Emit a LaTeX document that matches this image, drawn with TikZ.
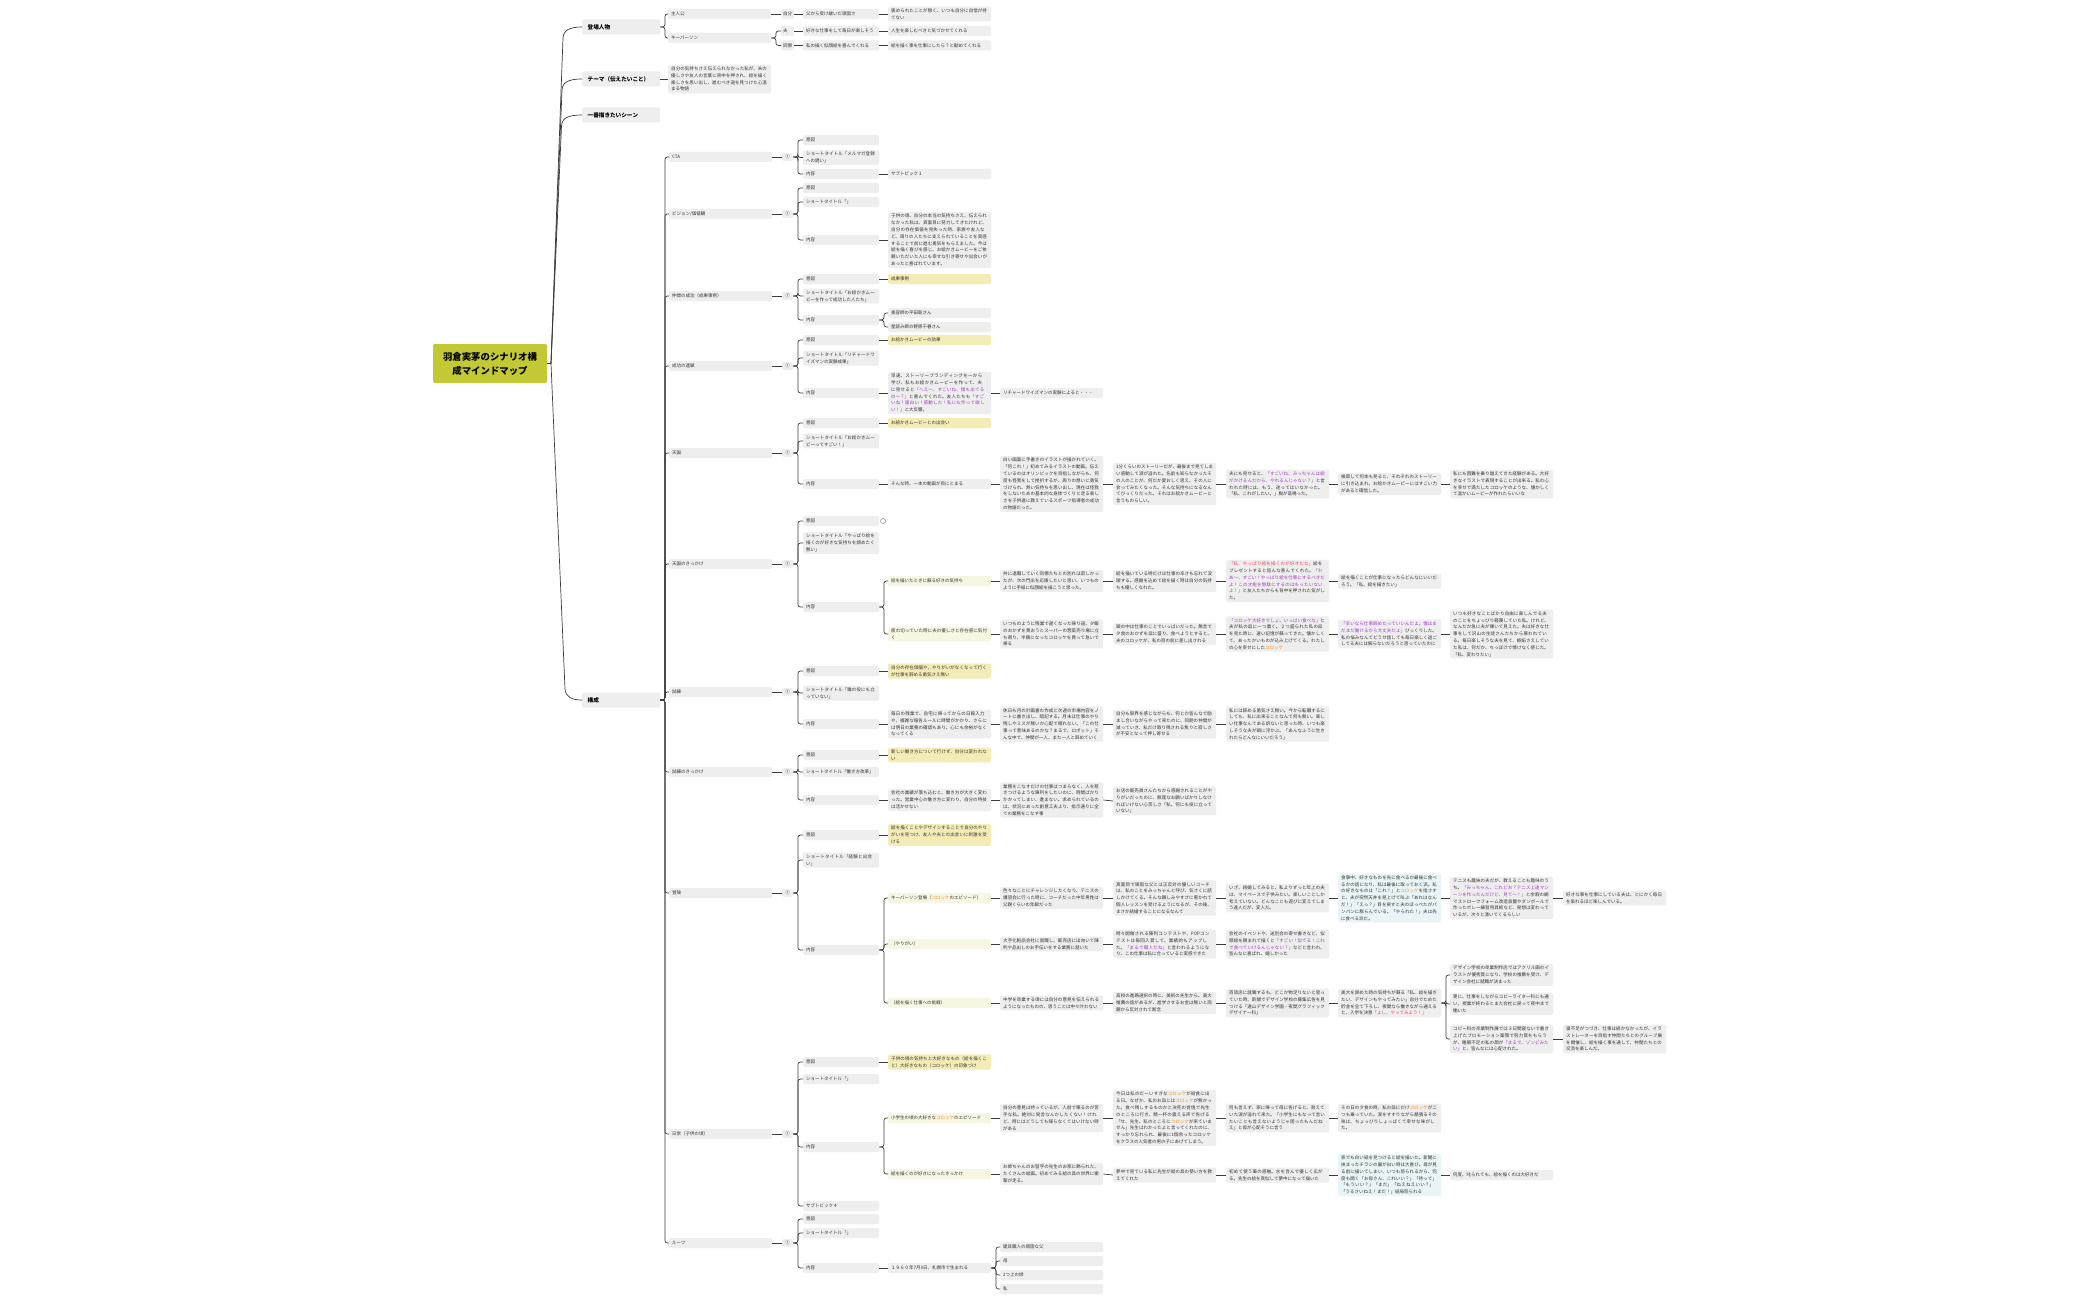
\documentclass[tikz,border=0pt]{standalone}
\usepackage{fontspec}
\setmainfont{Noto Sans CJK JP}
\XeTeXlinebreaklocale "ja"
\XeTeXlinebreakskip=0pt plus 0.5pt
\definecolor{cGray}{HTML}{EEEEEE}
\definecolor{cYel}{HTML}{F4ECB6}
\definecolor{cLyg}{HTML}{F6F6E2}
\definecolor{cLbl}{HTML}{E9F4F7}
\definecolor{cRoot}{HTML}{C3C934}
\definecolor{cTxt}{HTML}{333333}
\definecolor{cLine}{HTML}{3C3C3C}
\definecolor{cPur}{HTML}{A03CC0}
\definecolor{cRed}{HTML}{E5484D}
\definecolor{cOra}{HTML}{F08C28}
\newcommand\fs{\fontsize{4.5pt}{6.8pt}\selectfont}
\newcommand\fsb{\fontsize{5.6pt}{7pt}\selectfont\bfseries}
\newcommand\purtxt[1]{\textcolor{cPur}{#1}}
\newcommand\redtxt[1]{\textcolor{cRed}{#1}}
\newcommand\oratxt[1]{\textcolor{cOra}{#1}}
\newcommand\lk[2]{\draw[cn] (#1.east) -- (#2.west);}
\newcommand\fk[2]{\draw[cn,rounded corners=2.5pt] (#1.east) -- ++(4.5,0) |- (#2.west);}
\newcommand\grp[3]{%
 \node[lvtwo] (#1) at (669,#2) {#3};
 \node[numbx] (#1m) at (782,#2) {①};
 \fk{kou}{#1}
 \lk{#1}{#1m}}
\begin{document}
\begin{tikzpicture}[x=1pt,y=-1pt,
 cn/.style={draw=cLine,line width=0.7pt},
 bx/.style={anchor=west,fill=cGray,rounded corners=1.5pt,text=cTxt,font=\fs,inner xsep=3pt,inner ysep=2pt,align=left,minimum height=10pt},
 lvtwo/.style={bx,text width=97pt},
 lvthree/.style={bx,text width=70pt},
 wbx/.style={bx,text width=97pt},
 smbx/.style={bx,text width=9pt,inner xsep=2pt},
 topbx/.style={bx,text width=67pt,inner xsep=5.5pt,font=\fsb,minimum height=15pt,text=black},
 numbx/.style={anchor=west,fill=cGray,rounded corners=1.5pt,text=cTxt,font=\fs,inner sep=0.5pt,minimum width=11pt,minimum height=8pt},
 yelbx/.style={wbx,fill=cYel},
 lygbx/.style={wbx,fill=cLyg},
 lblbx/.style={wbx,fill=cLbl}]
\fill[white] (0,0) rectangle (2099,1300);
\useasboundingbox (0,0) rectangle (2099,1300);

% root
\node[fill=cRoot,rounded corners=2pt,minimum width=114pt,minimum height=39pt,align=center,font=\fontsize{9.4pt}{14pt}\selectfont\bfseries] (root) at (490,363.5) {羽倉実茅のシナリオ構\\成マインドマップ};

% top level
\node[topbx] (tojo) at (582,27) {登場人物};
\node[topbx] (theme) at (582,79) {テーマ（伝えたいこと）};
\node[topbx] (ichi) at (582,115) {一番描きたいシーン};
\node[topbx] (kou) at (582,700) {構成};

\draw[cn] (root.east) -- (551,363.5) -- (563,38) .. controls (563.5,30) and (570,27) .. (tojo.west);
\draw[cn] (551,363.5) -- (562,90) .. controls (562.5,82) and (569,79) .. (theme.west);
\draw[cn] (551,363.5) -- (561.5,126) .. controls (562,118) and (568,115) .. (ichi.west);
\draw[cn] (551,363.5) -- (565,689) .. controls (565.5,697) and (572,700) .. (kou.west);

% characters
\node[lvtwo] (hero) at (668,14) {主人公};
\node[lvtwo] (kp) at (668,38) {キーパーソン};
\node[smbx] (jibun) at (781,14) {自分};
\node[lvthree] (chichi) at (803,14) {父から受け継いだ頑固さ};
\node[wbx] (home) at (888,14) {褒められたことが無く、いつも自分に自信が持てない};
\node[smbx] (otto) at (781,31) {夫};
\node[lvthree] (suki) at (803,31) {好きな仕事をして毎日が楽しそう};
\node[wbx] (jinsei) at (888,31) {人生を楽しむべきと気づかせてくれる};
\node[smbx] (doryo) at (781,45.5) {同僚};
\node[lvthree] (niga) at (803,45.5) {私の描く似顔絵を喜んでくれる};
\node[wbx] (susume) at (888,45.5) {絵を描く事を仕事にしたら？と勧めてくれる};
\node[wbx] (themetxt) at (668,79) {自分の気持ちさえ伝えられなかった私が、夫の優しさや友人の言葉に背中を押され、絵を描く楽しさを思い出し、進むべき道を見つけた心温まる物語};
\fk{tojo}{hero} \fk{tojo}{kp}
\lk{hero}{jibun} \lk{jibun}{chichi} \lk{chichi}{home}
\fk{kp}{otto} \fk{kp}{doryo}
\lk{otto}{suki} \lk{suki}{jinsei}
\lk{doryo}{niga} \lk{niga}{susume}
\lk{theme}{themetxt}

% CTA
\grp{cta}{157}{CTA}
\node[lvthree] (cta1) at (803,140) {意図};
\node[lvthree] (cta2) at (803,157.5) {ショートタイトル「メルマガ登録への誘い」};
\node[lvthree] (cta3) at (803,174) {内容};
\node[wbx] (cta3a) at (888,174) {サブトピック１};
\fk{ctam}{cta1} \fk{ctam}{cta2} \fk{ctam}{cta3} \lk{cta3}{cta3a}

% vision
\grp{vis}{214}{ビジョン/価値観}
\node[lvthree] (vis1) at (803,188) {意図};
\node[lvthree] (vis2) at (803,202) {ショートタイトル「」};
\node[lvthree] (vis3) at (803,240) {内容};
\node[wbx] (vis3a) at (888,240) {子供の頃、自分の本当の気持ちさえ、伝えられなかった私は、真面目に努力してきたけれど、自分の存在価値を見失った時、家族や友人など、周りの人たちに支えられていることを実感することで前に進む勇気をもらえました。今は絵を描く喜びを感じ、お絵かきムービーをご依頼いただいた人にも幸せな引き寄せや出会いがあったと喜ばれています。};
\fk{vism}{vis1} \fk{vism}{vis2} \fk{vism}{vis3} \lk{vis3}{vis3a}

% nakama
\grp{nak}{296}{仲間の成功（成果事例）}
\node[lvthree] (nak1) at (803,279) {意図};
\node[yelbx] (nak1a) at (888,279) {成果事例};
\node[lvthree] (nak2) at (803,296) {ショートタイトル「お絵かきムービーを作って成功した人たち」};
\node[lvthree] (nak3) at (803,320) {内容};
\node[wbx] (nak3a) at (888,313) {美容師の平田聡さん};
\node[wbx] (nak3b) at (888,327) {星読み師の野原千春さん};
\fk{nakm}{nak1} \fk{nakm}{nak2} \fk{nakm}{nak3} \lk{nak1}{nak1a}
\fk{nak3}{nak3a} \fk{nak3}{nak3b}

% seiko
\grp{sei}{366}{成功の連鎖}
\node[lvthree] (sei1) at (803,340) {意図};
\node[yelbx] (sei1a) at (888,340) {お絵かきムービーの効果};
\node[lvthree] (sei2) at (803,358) {ショートタイトル「リチャードワイズマンの実験成果」};
\node[lvthree] (sei3) at (803,393) {内容};
\node[wbx] (sei3a) at (888,393) {早速、ストーリーブランディングを一から学び、私もお絵かきムービーを作って、夫に見せると\purtxt{「へえ〜、すごいね、僕も出てるの〜？」}と喜んでくれた。友人たちも\purtxt{「すごいね！面白い！感動した！私にも作って欲しい！」}と大反響。};
\node[wbx] (sei3b) at (1000,393) {リチャードワイズマンの実験によると・・・};
\fk{seim}{sei1} \fk{seim}{sei2} \fk{seim}{sei3} \lk{sei1}{sei1a} \lk{sei3}{sei3a} \lk{sei3a}{sei3b}

% tengoku
\grp{ten}{453}{天国}
\node[lvthree] (ten1) at (803,423) {意図};
\node[yelbx] (ten1a) at (888,423) {お絵かきムービーとの出会い};
\node[lvthree] (ten2) at (803,441) {ショートタイトル「お絵かきムービーってすごい！」};
\node[lvthree] (ten3) at (803,484) {内容};
\node[wbx] (ten3a) at (888,484) {そんな時、一本の動画が目にとまる};
\node[wbx] (ten3b) at (1000,484) {白い画面に手書きのイラストが描かれていく。「何これ！」初めてみるイラストの動画。伝えているのはオリンピックを目指しながらも、何度も怪我をして挫折するが、周りの想いに勇気づけられ、熱い気持ちを思い出し、現在は怪我をしないための基本的な身体づくりと走る楽しさを子供達に教えているスポーツ指導者の成功の物語だった。};
\node[wbx] (ten3c) at (1113,484) {1分くらいのストーリーだが、最後まで見てしまい感動して涙が溢れた。名前も知らなかったその人のことが、何だか愛おしく思え、その人に会ってみたくなった。そんな気持ちになるなんてびっくりだった。それはお絵かきムービーと言うものらしい。};
\node[wbx] (ten3d) at (1226,484) {夫にも見せると、\purtxt{「すごいね、みっちゃんは絵がかけるんだから、やれるんじゃない？」}と言われた時には、もう、迷ってはいなかった。「私、これがしたい。」胸が高鳴った。};
\node[wbx] (ten3e) at (1338,484) {検索して何本も見ると、それぞれのストーリーに引き込まれ、お絵かきムービーにはすごい力があると確信した。};
\node[wbx] (ten3f) at (1450,484) {私にも困難を乗り越えてきた経験がある。大好きなイラストで表現することが出来る。私の心を幸せで満たしたコロッケのような、懐かしくて温かいムービーが作れたらいいな};
\fk{tenm}{ten1} \fk{tenm}{ten2} \fk{tenm}{ten3} \lk{ten1}{ten1a}
\lk{ten3}{ten3a} \lk{ten3a}{ten3b} \lk{ten3b}{ten3c} \lk{ten3c}{ten3d} \lk{ten3d}{ten3e} \lk{ten3e}{ten3f}

% tengoku no kikkake
\grp{tk}{564}{天国のきっかけ}
\node[lvthree] (tk1) at (803,521) {意図};
\node[circle,draw=cLine!70,line width=0.4pt,minimum size=5pt,inner sep=0pt] (tkc) at (883,521) {};
\node[lvthree] (tk2) at (803,543) {ショートタイトル「やっぱり絵を描くのが好きな気持ちを諦めたく無い」};
\node[lvthree] (tk3) at (803,607) {内容};
\node[lygbx] (tka) at (888,581) {絵を描いたときに蘇る好きの気持ち};
\node[wbx] (tka1) at (1000,581) {共に退職していく同僚たちとの別れは寂しかったが、次の門出を応援したいと思い、いつものように手紙に似顔絵を描こうと思った。};
\node[wbx] (tka2) at (1113,581) {絵を描いている時だけは仕事の辛さも忘れて没頭する。感謝を込めて絵を描く時は自分の気持ちも優しくなれた。};
\node[wbx] (tka3) at (1226,581) {\redtxt{「私、やっぱり絵を描くのが好きだな」}絵をプレゼントすると皆んな喜んでくれた。\purtxt{「わあ〜、すごい！やっぱり絵を仕事にするべきだよ！この才能を無駄にするのはもったいないよ！」}と友人たちからも背中を押された気がした。};
\node[wbx] (tka4) at (1338,581) {絵を描くことが仕事になったらどんなにいいだろう。「私、絵を描きたい」};
\node[lygbx] (tkb) at (888,634) {疲れ切っていた時に夫の優しさと存在感に気付く};
\node[wbx] (tkb1) at (1000,634) {いつものように残業で遅くなった帰り道、夕飯のおかずを買おうとスーパーの惣菜売り場に立ち寄り、半額になったコロッケを買って急いで帰る};
\node[wbx] (tkb2) at (1113,634) {頭の中は仕事のことでいっぱいだった。無言で夕食のおかずを皿に盛り、食べようとすると、夫のコロッケが、私の目の前に差し出される};
\node[wbx] (tkb3) at (1226,634) {\purtxt{「コロッケ大好きでしょ。いっぱい食べな」}と夫が私の皿に一つ置く。２つ盛られた私の皿を見た時に、遠い記憶が蘇ってきた。懐かしくて、あったかいものが込み上げてくる。わたしの心を幸せにした\oratxt{コロッケ}};
\node[wbx] (tkb4) at (1338,634) {\purtxt{「辛いなら仕事辞めたっていいんだよ。僕はまだまだ働けるから大丈夫だよ」}びっくりした。私の悩みなんてどうせ話しても毎日楽しく過ごしてる夫には解らないだろうと思っていたのに};
\node[wbx] (tkb5) at (1450,634) {いつも好きなことばかり自由に楽しんでる夫のことをちょっぴり軽蔑していた私。けれど、なんだか急に夫が輝いて見えた。夫は好きな仕事をして沢山の生徒さんたちから慕われている。毎日楽しそうな夫を見て、嫉妬さえしていた私は、何だか、ちっぽけで情けなく感じた。「私、変わりたい」};
\fk{tkm}{tk1} \fk{tkm}{tk2} \fk{tkm}{tk3}
\fk{tk3}{tka} \fk{tk3}{tkb}
\lk{tka}{tka1} \lk{tka1}{tka2} \lk{tka2}{tka3} \lk{tka3}{tka4}
\lk{tkb}{tkb1} \lk{tkb1}{tkb2} \lk{tkb2}{tkb3} \lk{tkb3}{tkb4} \lk{tkb4}{tkb5}

% shiren
\grp{shi}{692}{試練}
\node[lvthree] (shi1) at (803,671) {意図};
\node[yelbx] (shi1a) at (888,671) {自分の存在価値や、やりがいがなくなって行くが仕事を辞める勇気さえ無い};
\node[lvthree] (shi2) at (803,693) {ショートタイトル「誰の役にも立っていない」};
\node[lvthree] (shi3) at (803,724) {内容};
\node[wbx] (shi3a) at (888,724) {毎日の残業で、自宅に帰ってからの日報入力や、複雑な報告ルールに時間がかかり、さらには明日の業務の確認もあり、心にも余裕がなくなってくる};
\node[wbx] (shi3b) at (1000,724) {休日も月の計画書の作成と次週の市場内容をノートに書き出し、暗記する。月末は仕事のやり残しやミスが無いか心配で眠れない。「この仕事って意味あるのかな？まるで、ロボット」そんな中で、仲間が一人、また一人と辞めていく};
\node[wbx] (shi3c) at (1113,724) {自分も限界を感じながらも、何とか皆んなで励まし合いながらやって来たのに、同期の仲間が減っていき、私だけ取り残される焦りと寂しさが不安となって押し寄せる};
\node[wbx] (shi3d) at (1226,724) {私には辞める勇気さえ無い。今から転職するにしても、私に出来ることなんて何も無い。楽しい仕事なんてある訳ないと思った時、いつも楽しそうな夫が頭に浮かぶ。「あんなふうに生きれたらどんなにいいだろう」};
\fk{shim}{shi1} \fk{shim}{shi2} \fk{shim}{shi3} \lk{shi1}{shi1a}
\lk{shi3}{shi3a} \lk{shi3a}{shi3b} \lk{shi3b}{shi3c} \lk{shi3c}{shi3d}

% shiren no kikkake
\grp{sk}{772}{試練のきっかけ}
\node[lvthree] (sk1) at (803,755) {意図};
\node[yelbx] (sk1a) at (888,755) {新しい働き方について行けず、自分は変われない};
\node[lvthree] (sk2) at (803,772) {ショートタイトル「働き方改革」};
\node[lvthree] (sk3) at (803,800) {内容};
\node[wbx] (sk3a) at (888,800) {会社の業績が落ち込むと、働き方が大きく変わった。営業中心の働き方に変わり、自分の特技は活かせない};
\node[wbx] (sk3b) at (1000,800) {業務をこなすだけの仕事はつまらなく、人を惹きつけるような陳列をしたいのに、時間ばかりかかってしまい、進まない。求められているのは、状況にあった創意工夫より、指示通りに全ての業務をこなす事};
\node[wbx] (sk3c) at (1113,801) {お店の販売員さんたちから感謝されることがやりがいだったのに、無理なお願いばかりしなければいけない心苦しさ「私、何にも役に立っていない」};
\fk{skm}{sk1} \fk{skm}{sk2} \fk{skm}{sk3} \lk{sk1}{sk1a}
\lk{sk3}{sk3a} \lk{sk3a}{sk3b} \lk{sk3b}{sk3c}

% bouken
\grp{bo}{893}{冒険}
\node[lvthree] (bo1) at (803,835) {意図};
\node[yelbx] (bo1a) at (888,835) {絵を描くことやデザインすることで自分のやりがいを見つけ、友人や夫との出会いに刺激を受ける};
\node[lvthree] (bo2) at (803,860) {ショートタイトル「経験と出会い」};
\node[lvthree] (bo3) at (803,950) {内容};
\node[lygbx] (boa) at (888,898) {キーパーソン登場（\oratxt{コロッケ}のエピソード）};
\node[wbx] (boa1) at (1000,898) {色々なことにチャレンジしたくなり、テニスの講習会に行った時に、コーチだった中年男性は父親くらいの年齢だった};
\node[wbx] (boa2) at (1113,898) {真面目で頑固な父とは正反対の優しいコーチは、私のことをみっちゃんと呼び、気さくに話しかけてくる。そんな親しみやすさに惹かれて個人レッスンを受けるようになるが、その後、まさか結婚することになるなんて};
\node[wbx] (boa3) at (1226,898) {いざ、結婚してみると、私よりずっと年上の夫は、マイペースで子供みたい。楽しいことしか考えていない。どんなことも遊びに変えてしまう達人だが、変人だ。};
\node[lblbx] (boa4) at (1338,898) {食事中、好きなものを先に食べるか最後に食べるかの話になり、私は最後に取っておく派。私の好きなものは「これ！」と\oratxt{コロッケ}を指さすと、夫が突然天井を見上げて叫ぶ「あれはなんだ！」「えっ？」目を戻すと夫のほっぺたがパンパンに膨らんでいる。「やられた！」夫は先に食べる派だ。};
\node[wbx] (boa5) at (1450,898) {テニスも趣味の夫だが、教えることも趣味のうち。\purtxt{「みっちゃん、これどお？テニス上達マシーンを作ったんだけど、見て〜！」}と余暇の網でストロークフォーム改造装置やダンボールで作ったボレー練習用具板など、発想は変わっているが、次々と湧いてくるらしい};
\node[wbx] (boa6) at (1563,898) {好きな事を仕事にしている夫は、とにかく毎日を呆れるほど楽しんでいる。};
\node[lygbx] (bob) at (888,944) {（やりがい）};
\node[wbx] (bob1) at (1000,944) {大手化粧品会社に就職し、販売店に出向いて陳列や品出しのお手伝いをする業務に就いた};
\node[wbx] (bob2) at (1113,944) {時々開催される陳列コンテストや、POPコンテストは毎回入賞して、業績的もアップした。\purtxt{「まるで職人だね」}と言われるようになり、この仕事は私に合っていると実感できた};
\node[wbx] (bob3) at (1226,944) {会社のイベントや、送別会の寄せ書きなど、似顔絵を頼まれて描くと\purtxt{「すごい！似てる！これで食べていけるんじゃない？」}などと言われ、皆んなに喜ばれ、嬉しかった};
\node[lygbx] (boc) at (888,1003) {（絵を描く仕事への挑戦）};
\node[wbx] (boc1) at (1000,1003) {中学を卒業する頃には自分の意見を伝えられるようになったものの、思うことは中々叶わない};
\node[wbx] (boc2) at (1113,1003) {高校の進路選択の時に、美術の先生から、美大推薦の話があるが、進学させるお金は無いと両親から反対されて断念};
\node[wbx] (boc3) at (1226,1003) {百貨店に就職するも、どこか物足りないと思っていた時、新聞でデザイン学校の募集広告を見つける「遠山デザイン学園・夜間グラフィックデザイナー科」};
\node[wbx] (boc4) at (1338,1003) {美大を諦めた時の気持ちが蘇る「私、絵を描きたい、デザインもやってみたい」自分でためた貯金を全て下ろし、夜間なら働きながら通えると、入学を決意\redtxt{「よし、やってみよう！」}};
\node[wbx] (boc5a) at (1450,975) {デザイン学校の卒業制作店ではアクリル画のイラストが優秀賞になり、学校の推薦を受け、デザイン会社に就職が決まった};
\node[wbx] (boc5b) at (1450,1004) {更に、仕事をしながらコピーライター科にも通い、授業が終わるとまた会社に戻って夜中まで働いた};
\node[wbx] (boc5c) at (1450,1039) {コピー科の卒業制作展では３日間寝ないで書き上げたプロモーション案策で努力賞をもらうが、睡眠不足の私の顔が\purtxt{「まるで、ゾンビみたい」}と、皆んなには心配された。};
\node[wbx] (boc6) at (1563,1039) {寝不足がつづき、仕事は続かなかったが、イラストレーターを目指す仲間たちとのグループ展を開催し、絵を描く事を通して、仲間たちとの交流を楽しんだ。};
\fk{bom}{bo1} \fk{bom}{bo2} \fk{bom}{bo3} \lk{bo1}{bo1a}
\fk{bo3}{boa} \fk{bo3}{bob} \fk{bo3}{boc}
\lk{boa}{boa1} \lk{boa1}{boa2} \lk{boa2}{boa3} \lk{boa3}{boa4} \lk{boa4}{boa5} \lk{boa5}{boa6}
\lk{bob}{bob1} \lk{bob1}{bob2} \lk{bob2}{bob3}
\lk{boc}{boc1} \lk{boc1}{boc2} \lk{boc2}{boc3} \lk{boc3}{boc4}
\fk{boc4}{boc5a} \fk{boc4}{boc5b} \fk{boc4}{boc5c} \lk{boc5c}{boc6}

% nichijo
\grp{ni}{1134}{日常（子供の頃）}
\node[lvthree] (ni1) at (803,1062) {意図};
\node[yelbx] (ni1a) at (888,1062) {子供の頃の気持ちと大好きなもの（絵を描くこと）大好きなもの（コロッケ）の印象づけ};
\node[lvthree] (ni2) at (803,1079) {ショートタイトル「」};
\node[lvthree] (ni3) at (803,1147) {内容};
\node[lvthree] (ni4) at (803,1206) {サブトピック４};
\node[lygbx] (nia) at (888,1118) {小学生の頃の大好きな\oratxt{コロッケ}のエピソード};
\node[wbx] (nia1) at (1000,1118) {自分の意見は持っているが、人前で喋るのが苦手な私。絶対に発言なんかしたくない！けれど、時にはどうしても喋らなくてはいけない時がある};
\node[wbx] (nia2) at (1113,1118) {今日は私のだーいすきな\oratxt{コロッケ}が給食に出る日。なぜか、私のお皿には\oratxt{コロッケ}が無かった。食べ残しするものかと決死の覚悟で先生のところに行き、精一杯の震える声で告げる「せ、先生、私のところに\oratxt{コロッケ}が来ていません」先生はわかったよと言ってくれたのに、すっかり忘れられ、最後に1個余ったコロッケをクラスの人気者の男の子にあげてしまう。};
\node[wbx] (nia3) at (1226,1118) {何も言えず、家に帰って母に告げると、耐えていた涙が溢れて来た。「小学生にもなって言いたいことも言えないようじゃ困ったもんだねえ」と母が心配そうに言う};
\node[wbx] (nia4) at (1338,1118) {その日の夕食の時、私の皿にだけ\oratxt{コロッケ}が二つも乗っていた。涙をすすりながら頬張るその味は、ちょっぴりしょっぱくて幸せな味がした。};
\node[lygbx] (nib) at (888,1174) {絵を描くのが好きになったきっかけ};
\node[wbx] (nib1) at (1000,1174) {お姉ちゃんのお習字の先生のお家に飾られた、たくさんの絵画。初めてみる絵の具の世界に衝撃が走る。};
\node[wbx] (nib2) at (1113,1175) {夢中で見ている私に先生が絵の具の使い方を教えてくれた};
\node[wbx] (nib3) at (1226,1175) {初めて使う筆の感触。水を含んで優しく広がる。先生の絵を真似して夢中になって描いた};
\node[lblbx] (nib4) at (1338,1175) {家でも白い紙を見つけると絵を描いた。新聞に挟まったチラシの裏が白い時は大喜び。母が見る前に描いてしまい、いつも怒られるから、何度も聞く「お母さん、これいい？」「待って」「もういい？」「まだ」「ねえねえいい？」「うるさいねえ！まだ！」結局怒られる};
\node[wbx] (nib5) at (1450,1175) {何度、叱られても、絵を描くのは大好きだ};
\fk{nim}{ni1} \fk{nim}{ni2} \fk{nim}{ni3} \fk{nim}{ni4} \lk{ni1}{ni1a}
\fk{ni3}{nia} \fk{ni3}{nib}
\lk{nia}{nia1} \lk{nia1}{nia2} \lk{nia2}{nia3} \lk{nia3}{nia4}
\lk{nib}{nib1} \lk{nib1}{nib2} \lk{nib2}{nib3} \lk{nib3}{nib4} \lk{nib4}{nib5}

% roots
\grp{ru}{1243}{ルーツ}
\node[lvthree] (ru1) at (803,1219) {意図};
\node[lvthree] (ru2) at (803,1233) {ショートタイトル「」};
\node[lvthree] (ru3) at (803,1268) {内容};
\node[wbx] (ru3a) at (888,1268) {１９６０年7月3日、札幌市で生まれる};
\node[wbx] (ru3b) at (1000,1247) {建具職人の頑固な父};
\node[wbx] (ru3c) at (1000,1261) {母};
\node[wbx] (ru3d) at (1000,1275) {2つ上の姉};
\node[wbx] (ru3e) at (1000,1289) {私};
\fk{rum}{ru1} \fk{rum}{ru2} \fk{rum}{ru3} \lk{ru3}{ru3a}
\fk{ru3a}{ru3b} \fk{ru3a}{ru3c} \fk{ru3a}{ru3d} \fk{ru3a}{ru3e}
\end{tikzpicture}
\end{document}
